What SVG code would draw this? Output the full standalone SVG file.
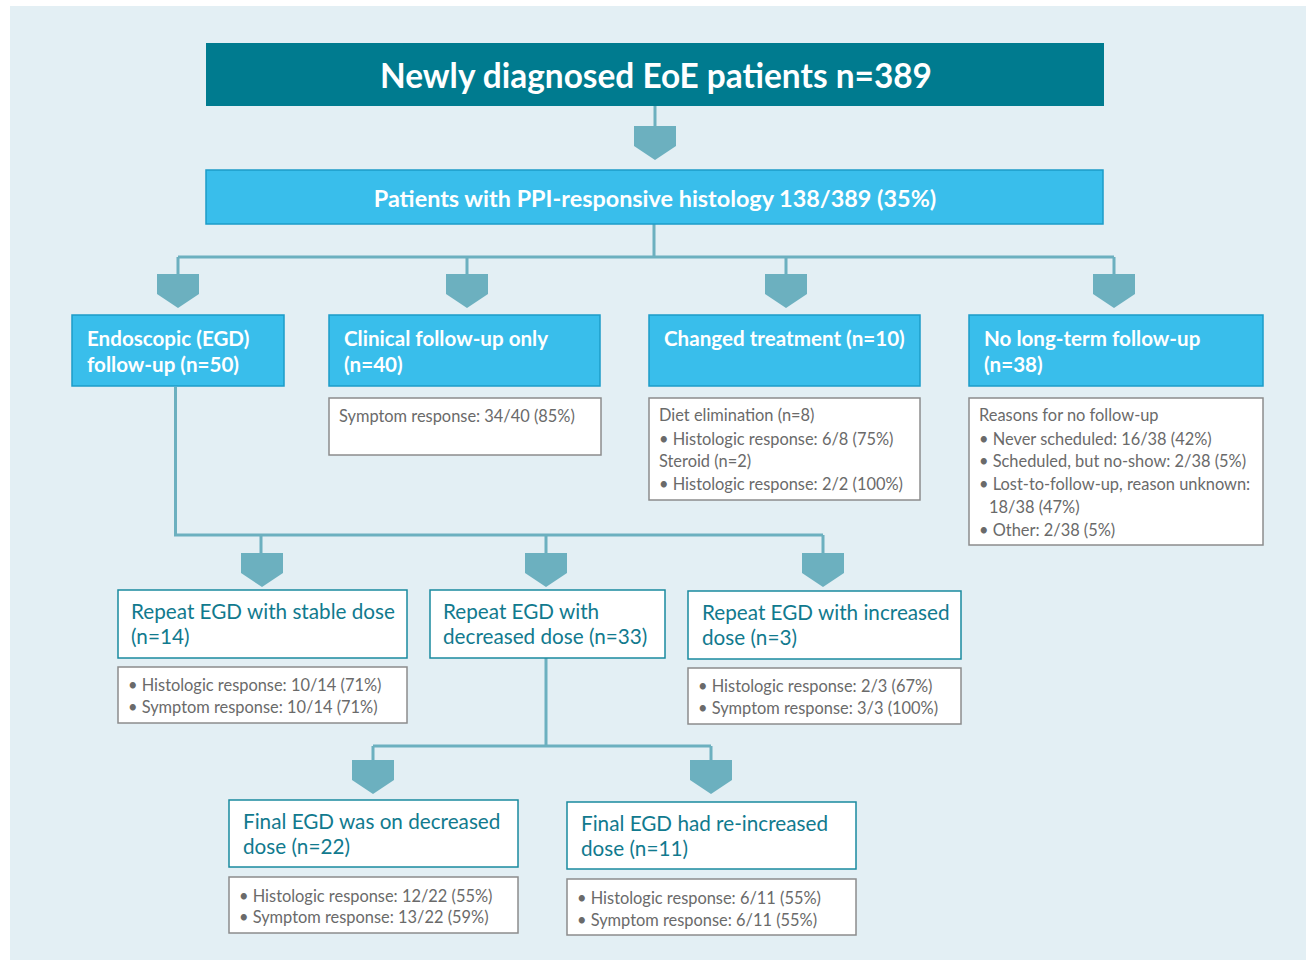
<svg xmlns="http://www.w3.org/2000/svg" xmlns:xlink="http://www.w3.org/1999/xlink" width="1306" height="960" viewBox="0 0 1306 960">
<defs>
<style>
.bg{fill:#e3eff4}
.head{fill:#007b8f}
.bright{fill:#39beeb;stroke:#1d9cc8;stroke-width:1.5}
.outline{fill:#ffffff;stroke:#1a8a9f;stroke-width:1.5}
.stats{fill:#ffffff;stroke:#8c8c8c;stroke-width:1.5}
.conn{fill:none;stroke:#6cb0bf;stroke-width:3}
.arrow{fill:#6cb0bf}
.t-head{font-family:Lato,"Liberation Sans",sans-serif;font-weight:bold;fill:#ffffff}
.t-bright{font-family:Lato,"Liberation Sans",sans-serif;font-weight:bold;fill:#ffffff;font-size:20.6px}
.t-teal{font-family:Lato,"Liberation Sans",sans-serif;fill:#117a8e;font-size:20.7px}
.t-gray{font-family:Lato,"Liberation Sans",sans-serif;fill:#6a6a6a;font-size:16.4px}
</style>
<path id="pent" d="M-21,0 H21 V20 L0,34 L-21,20 Z"/>
</defs>
<rect class="bg" x="10" y="6" width="1296" height="954"/>

<g id="connectors">
<path class="conn" d="M655,106 V128"/>
<path class="conn" d="M654,224 V257 M178,257 H1114 M178,257 V276 M467,257 V276 M786,257 V276 M1114,257 V276"/>
<path class="conn" d="M175.5,387 V535 H823 M261,535 V557 M546,535 V557 M823,535 V557"/>
<path class="conn" d="M546,658 V746 M373,746 H711 M373,746 V762 M711,746 V762"/>
<use class="arrow" xlink:href="#pent" x="655" y="126"/>
<use class="arrow" xlink:href="#pent" x="178" y="274"/>
<use class="arrow" xlink:href="#pent" x="467" y="274"/>
<use class="arrow" xlink:href="#pent" x="786" y="274"/>
<use class="arrow" xlink:href="#pent" x="1114" y="274"/>
<use class="arrow" xlink:href="#pent" x="262" y="553"/>
<use class="arrow" xlink:href="#pent" x="546" y="553"/>
<use class="arrow" xlink:href="#pent" x="823" y="553"/>
<use class="arrow" xlink:href="#pent" x="373" y="760"/>
<use class="arrow" xlink:href="#pent" x="711" y="760"/>
</g>

<g id="node-newly">
<rect class="head" x="206" y="43" width="898" height="63"/>
<text class="t-head" x="656" y="88" font-size="33.4" text-anchor="middle">Newly diagnosed EoE patients n=389</text>
</g>

<g id="node-ppi">
<rect class="bright" x="206" y="170" width="897" height="54"/>
<text class="t-head" x="655" y="207" font-size="23.4" text-anchor="middle">Patients with PPI-responsive histology 138/389 (35%)</text>
</g>

<g id="node-egd">
<rect class="bright" x="72" y="315" width="212" height="71"/>
<text class="t-bright" x="87" y="346">Endoscopic (EGD)</text>
<text class="t-bright" x="87" y="372">follow-up (n=50)</text>
</g>

<g id="node-clinical">
<rect class="bright" x="329" y="315" width="271" height="71"/>
<text class="t-bright" x="344" y="346">Clinical follow-up only</text>
<text class="t-bright" x="344" y="372">(n=40)</text>
</g>
<g id="node-clinical-stats">
<rect class="stats" x="329" y="398" width="272" height="57"/>
<text class="t-gray" x="339" y="422">Symptom response: 34/40 (85%)</text>
</g>

<g id="node-changed">
<rect class="bright" x="649" y="315" width="271" height="71"/>
<text class="t-bright" x="664" y="346">Changed treatment (n=10)</text>
</g>
<g id="node-changed-stats">
<rect class="stats" x="649" y="398" width="271" height="102"/>
<text class="t-gray" x="659" y="421">Diet elimination (n=8)</text>
<text class="t-gray" x="659" y="445">• Histologic response: 6/8 (75%)</text>
<text class="t-gray" x="659" y="467">Steroid (n=2)</text>
<text class="t-gray" x="659" y="490">• Histologic response: 2/2 (100%)</text>
</g>

<g id="node-nofollow">
<rect class="bright" x="969" y="315" width="294" height="71"/>
<text class="t-bright" x="984" y="346">No long-term follow-up</text>
<text class="t-bright" x="984" y="372">(n=38)</text>
</g>
<g id="node-nofollow-stats">
<rect class="stats" x="969" y="398" width="294" height="147"/>
<text class="t-gray" x="979" y="421">Reasons for no follow-up</text>
<text class="t-gray" x="979" y="445">• Never scheduled: 16/38 (42%)</text>
<text class="t-gray" x="979" y="467">• Scheduled, but no-show: 2/38 (5%)</text>
<text class="t-gray" x="979" y="490">• Lost-to-follow-up, reason unknown:</text>
<text class="t-gray" x="989" y="513">18/38 (47%)</text>
<text class="t-gray" x="979" y="536">• Other: 2/38 (5%)</text>
</g>

<g id="node-stable">
<rect class="outline" x="118" y="590" width="289" height="68"/>
<text class="t-teal" x="131" y="619">Repeat EGD with stable dose</text>
<text class="t-teal" x="131" y="644">(n=14)</text>
</g>
<g id="node-stable-stats">
<rect class="stats" x="118" y="667" width="289" height="56"/>
<text class="t-gray" x="128" y="691">• Histologic response: 10/14 (71%)</text>
<text class="t-gray" x="128" y="713">• Symptom response: 10/14 (71%)</text>
</g>

<g id="node-decreased">
<rect class="outline" x="430" y="590" width="235" height="68"/>
<text class="t-teal" x="443" y="619">Repeat EGD with</text>
<text class="t-teal" x="443" y="644">decreased dose (n=33)</text>
</g>

<g id="node-increased">
<rect class="outline" x="688" y="591" width="273" height="68"/>
<text class="t-teal" x="702" y="620">Repeat EGD with increased</text>
<text class="t-teal" x="702" y="645">dose (n=3)</text>
</g>
<g id="node-increased-stats">
<rect class="stats" x="688" y="668" width="273" height="56"/>
<text class="t-gray" x="698" y="692">• Histologic response: 2/3 (67%)</text>
<text class="t-gray" x="698" y="714">• Symptom response: 3/3 (100%)</text>
</g>

<g id="node-final-dec">
<rect class="outline" x="229" y="800" width="289" height="67"/>
<text class="t-teal" x="243" y="829">Final EGD was on decreased</text>
<text class="t-teal" x="243" y="854">dose (n=22)</text>
</g>
<g id="node-final-dec-stats">
<rect class="stats" x="229" y="877" width="289" height="56"/>
<text class="t-gray" x="239" y="902">• Histologic response: 12/22 (55%)</text>
<text class="t-gray" x="239" y="923">• Symptom response: 13/22 (59%)</text>
</g>

<g id="node-final-reinc">
<rect class="outline" x="567" y="802" width="289" height="67"/>
<text class="t-teal" x="581" y="831">Final EGD had re-increased</text>
<text class="t-teal" x="581" y="856">dose (n=11)</text>
</g>
<g id="node-final-reinc-stats">
<rect class="stats" x="567" y="879" width="289" height="56"/>
<text class="t-gray" x="577" y="904">• Histologic response: 6/11 (55%)</text>
<text class="t-gray" x="577" y="926">• Symptom response: 6/11 (55%)</text>
</g>
</svg>
